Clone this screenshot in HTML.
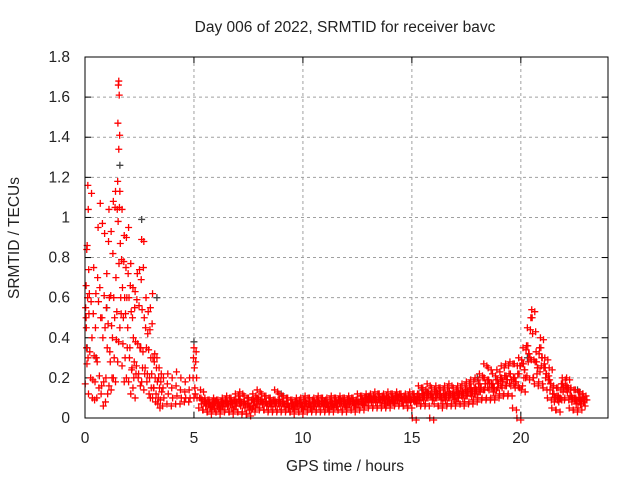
<!DOCTYPE html>
<html><head><meta charset="utf-8"><style>
body{margin:0;background:#fff}
svg{display:block}
text{font-family:"Liberation Sans",sans-serif;font-size:15.5px;fill:#222}
</style></head><body>
<svg id="chart" width="640" height="480">
<text x="345" y="32" text-anchor="middle">Day 006 of 2022, SRMTID for receiver bavc</text>
<text x="345" y="471" text-anchor="middle">GPS time / hours</text>
<text transform="translate(19,238) rotate(-90)" text-anchor="middle">SRMTID / TECUs</text>
<g id="grid"></g>
<g id="axes"></g>
<g id="marks"></g>
<rect x="85" y="57" width="523" height="361" fill="none" stroke="#000" stroke-width="1"/>
</svg>
<script>
const xTicks=[0,5,10,15,20];
const yTicks=[0,0.2,0.4,0.6,0.8,1,1.2,1.4,1.6,1.8];
const yTickLabels=["0","0.2","0.4","0.6","0.8","1","1.2","1.4","1.6","1.8"];
const darkTimes=[0.1,0.5,1.0,1.6,2.6,3.3,5.0,7.5,9.0,11,13,15.5,18,20.3,22.6];
const darkValues=[0.35,0.3,0.55,1.26,0.99,0.6,0.38,0.1,0.12,0.08,0.1,0.14,0.2,0.3,0.14];
const earlyHours=[0.05,0.1,0.15,0.2,0.3,0.4,0.5,0.6,0.7,0.8,0.9,1.0,1.1,1.2,1.3,1.4,1.5,1.55,1.6,1.7,1.8,1.9,2.0,2.1,2.2,2.3,2.4,2.5,2.6,2.7,2.8,2.9,3.0,3.1,3.2,3.3,3.4,3.5,3.6,3.8,4.0,4.2,4.4,4.6,4.8,5.0,5.1];
const earlyValues=[
[0.5,0.55,0.35,0.17,0.27,0.66],[0.86,0.84,0.6,0.45,0.3],[1.04,1.16,0.74],[0.62,0.52,0.33,0.12],[1.12,0.58,0.4,0.2,0.1],[0.75,0.52,0.31,0.19,0.09],[0.62,0.45,0.3,0.18,0.1],[0.95,0.7,0.58,0.28,0.15],[1.07,0.65,0.5,0.21,0.12],[0.97,0.5,0.4,0.16,0.06],
[0.92,0.61,0.45,0.18,0.08],[0.72,0.55,0.35,0.2,0.12],[1.04,0.88,0.6,0.47,0.33,0.16],[0.93,0.61,0.46,0.28,0.2,0.14],[1.08,0.82,0.6,0.4,0.3,0.2],[1.13,1.05,0.7,0.5,0.39,0.18],[1.18,1.04,0.98,0.53,0.38,0.28],[1.68,1.66,1.61,1.47,1.41,1.34],[1.13,1.05,0.87,0.77,0.6,0.45],[1.04,0.79,0.65,0.52,0.37,0.26],
[0.91,0.78,0.6,0.5,0.3,0.18],[0.9,0.75,0.6,0.52,0.35,0.2],[0.95,0.72,0.6,0.45,0.3,0.18],[0.77,0.66,0.53,0.35,0.24,0.12],[0.65,0.5,0.4,0.25,0.2,0.15],[0.63,0.55,0.38,0.28,0.22,0.1],[0.72,0.59,0.37,0.26,0.2],[0.74,0.56,0.35,0.22,0.16],[0.89,0.69,0.54,0.35,0.25,0.18],[0.88,0.75,0.5,0.33,0.22,0.14],
[0.6,0.45,0.35,0.25,0.18],[0.53,0.42,0.34,0.22,0.12],[0.55,0.44,0.3,0.2,0.15,0.1],[0.62,0.47,0.3,0.22,0.15,0.1],[0.32,0.28,0.2,0.15,0.08],[0.3,0.25,0.18,0.12,0.07],[0.25,0.2,0.15,0.1,0.05],[0.22,0.18,0.13,0.09],[0.2,0.15,0.1,0.06],[0.22,0.17,0.12,0.07],
[0.2,0.15,0.1,0.06],[0.23,0.16,0.11,0.07],[0.2,0.14,0.1,0.07],[0.18,0.13,0.1,0.08],[0.2,0.14,0.1,0.08],[0.35,0.3,0.25,0.2,0.15,0.1],[0.33,0.28,0.2,0.12,0.1]];
const bandHours=[5.3,5.5,5.7,5.9,6.1,6.3,6.5,6.7,6.9,7.1,
7.3,7.5,7.7,7.9,8.1,8.3,8.5,8.7,8.9,9.1,
9.3,9.5,9.7,9.9,10.1,10.3,10.5,10.7,10.9,11.1,
11.3,11.5,11.7,11.9,12.1,12.3,12.5,12.7,12.9,13.1,
13.3,13.5,13.7,13.9,14.1,14.3,14.5,14.7,14.9,15.1,
15.3,15.5,15.7,15.9,16.1,16.3,16.5,16.7,16.9,17.1,
17.3,17.5,17.7,17.9,18.1,18.3,18.5,18.7,18.9,19.1,
19.3,19.5,19.7,19.9,20.1,20.3,20.5,20.7,20.9,21.1,
21.3,21.5,21.7,21.9,22.1,22.3,22.5,22.7,22.85];
const bandValues=[
[0.14,0.1,0.07,0.05,0.09],[0.1,0.08,0.06,0.04,0.07],[0.09,0.07,0.05,0.03,0.06],[0.1,0.07,0.05,0.04,0.08],[0.09,0.07,0.05,0.03,0.06],[0.1,0.08,0.06,0.04,0.07],[0.11,0.08,0.06,0.04,0.07],[0.1,0.08,0.05,0.03,0.07],[0.12,0.09,0.06,0.04,0.08],[0.13,0.09,0.06,0.03,0.08],
[0.11,0.08,0.05,0.03,0.07],[0.1,0.07,0.04,0.02,0.06],[0.12,0.09,0.06,0.04,0.08],[0.14,0.1,0.07,0.05,0.09],[0.12,0.09,0.07,0.05,0.08],[0.11,0.08,0.06,0.04,0.07],[0.1,0.08,0.06,0.04,0.07],[0.14,0.09,0.06,0.04,0.08],[0.12,0.09,0.06,0.04,0.08],[0.11,0.08,0.06,0.04,0.07],
[0.1,0.07,0.05,0.04,0.06],[0.09,0.07,0.05,0.03,0.06],[0.1,0.08,0.06,0.04,0.07],[0.1,0.07,0.05,0.03,0.06],[0.11,0.08,0.06,0.04,0.07],[0.1,0.07,0.05,0.04,0.06],[0.1,0.08,0.06,0.04,0.07],[0.11,0.08,0.06,0.04,0.07],[0.1,0.08,0.06,0.04,0.07],[0.1,0.07,0.05,0.04,0.06],
[0.11,0.08,0.06,0.04,0.07],[0.1,0.08,0.06,0.05,0.07],[0.11,0.09,0.06,0.04,0.08],[0.1,0.08,0.06,0.04,0.07],[0.11,0.09,0.07,0.05,0.08],[0.1,0.08,0.06,0.04,0.07],[0.12,0.09,0.07,0.05,0.08],[0.11,0.09,0.07,0.05,0.08],[0.12,0.1,0.08,0.06,0.09],[0.12,0.1,0.08,0.06,0.09],
[0.13,0.1,0.08,0.06,0.09],[0.12,0.1,0.08,0.06,0.09],[0.12,0.1,0.07,0.06,0.09],[0.13,0.1,0.08,0.06,0.09],[0.12,0.1,0.08,0.07,0.09],[0.13,0.11,0.09,0.07,0.1],[0.12,0.1,0.08,0.07,0.09],[0.12,0.1,0.08,0.06,0.09],[0.13,0.1,0.08,0.06,0.09],[0.12,0.1,0.08,0.0,0.09],
[0.16,0.12,0.09,0.07,0.1],[0.15,0.12,0.09,0.07,0.11],[0.17,0.13,0.1,0.07,0.12],[0.15,0.12,0.09,0.0,0.1],[0.16,0.13,0.1,0.07,0.12],[0.15,0.12,0.09,0.06,0.1],[0.16,0.12,0.09,0.07,0.11],[0.17,0.13,0.1,0.07,0.12],[0.15,0.12,0.09,0.07,0.11],[0.16,0.13,0.1,0.08,0.12],
[0.17,0.13,0.1,0.07,0.12],[0.18,0.14,0.11,0.08,0.13],[0.19,0.15,0.11,0.08,0.13],[0.2,0.15,0.12,0.09,0.14],[0.22,0.17,0.13,0.1,0.15],[0.27,0.2,0.14,0.1,0.17],[0.25,0.19,0.14,0.1,0.17],[0.22,0.17,0.13,0.1,0.15],[0.24,0.19,0.15,0.11,0.17],[0.26,0.2,0.15,0.12,0.18],
[0.27,0.21,0.16,0.12,0.19],[0.28,0.22,0.16,0.12,0.19],[0.27,0.2,0.15,0.05,0.18],[0.3,0.22,0.15,0.0,0.26],[0.35,0.27,0.2,0.14,0.24],[0.45,0.36,0.28,0.2,0.32],[0.54,0.5,0.42,0.3,0.2],[0.33,0.28,0.22,0.17,0.25],[0.4,0.35,0.26,0.18,0.3],[0.3,0.25,0.2,0.15,0.22],
[0.25,0.19,0.14,0.1,0.17],[0.16,0.12,0.08,0.05,0.1],[0.15,0.11,0.08,0.04,0.1],[0.2,0.17,0.13,0.1,0.15],[0.2,0.16,0.13,0.1,0.15],[0.15,0.11,0.08,0.05,0.1],[0.14,0.1,0.07,0.04,0.09],[0.13,0.1,0.07,0.05,0.09],[0.12,0.1,0.08,0.07,0.09]];
const X0=85,XW=523,XMAX=24,Y0=418,YH=361,YMAX=1.8;
function xs(v){return X0+v/XMAX*XW;}
function ys(v){return Y0-v/YMAX*YH;}
const NS="http://www.w3.org/2000/svg";
const grid=document.getElementById('grid'),axes=document.getElementById('axes'),marks=document.getElementById('marks');
function mk(tag,attrs,parent){const e=document.createElementNS(NS,tag);for(const k in attrs)e.setAttribute(k,attrs[k]);parent.appendChild(e);return e;}
xTicks.forEach(function(t){
  const x=xs(t);
  if(t>0){const g=mk('line',{x1:x,x2:x,y1:57,y2:418,stroke:'#a0a0a0','stroke-dasharray':'3,3'},grid);
  
  }
  mk('line',{x1:x,x2:x,y1:418,y2:412,stroke:'#000'},axes);
  mk('line',{x1:x,x2:x,y1:57,y2:63,stroke:'#000'},axes);
  const l=mk('text',{x:x,y:443,'text-anchor':'middle'},axes);l.textContent=String(t);
  
  
});
yTicks.forEach(function(t,i){
  const y=ys(t);
  if(t>0&&t<YMAX){const g=mk('line',{x1:85,x2:608,y1:y,y2:y,stroke:'#a0a0a0','stroke-dasharray':'3,3'},grid);
  
  }
  mk('line',{x1:85,x2:91,y1:y,y2:y,stroke:'#000'},axes);
  mk('line',{x1:602,x2:608,y1:y,y2:y,stroke:'#000'},axes);
  const l=mk('text',{x:70,y:y+5,'text-anchor':'end'},axes);l.textContent=yTickLabels[i];
  
  
});
function plus(t,v,color){
  const x=xs(t),y=ys(v);
  const p=mk('path',{d:'M'+(x-3.5)+' '+y+'h7M'+x+' '+(y-3.5)+'v7',stroke:color,'stroke-width':1.3,fill:'none'},marks);
  
  
}
darkTimes.forEach(function(t,i){plus(t,darkValues[i],'#444');});
const offs=[0,-0.04,0.04,-0.08,0.08];
earlyHours.forEach(function(t,i){(earlyValues[i]||[]).forEach(function(v,j){plus(t+offs[j%5]*0.5,v,'#ff0000');});});
bandHours.forEach(function(t,i){(bandValues[i]||[]).forEach(function(v,j){plus(t+offs[j%5],v,'#ff0000');plus(t+0.1+offs[(j+2)%5],v+0.01*((j%3)-1),'#ff0000');});});
</script>
</body></html>
